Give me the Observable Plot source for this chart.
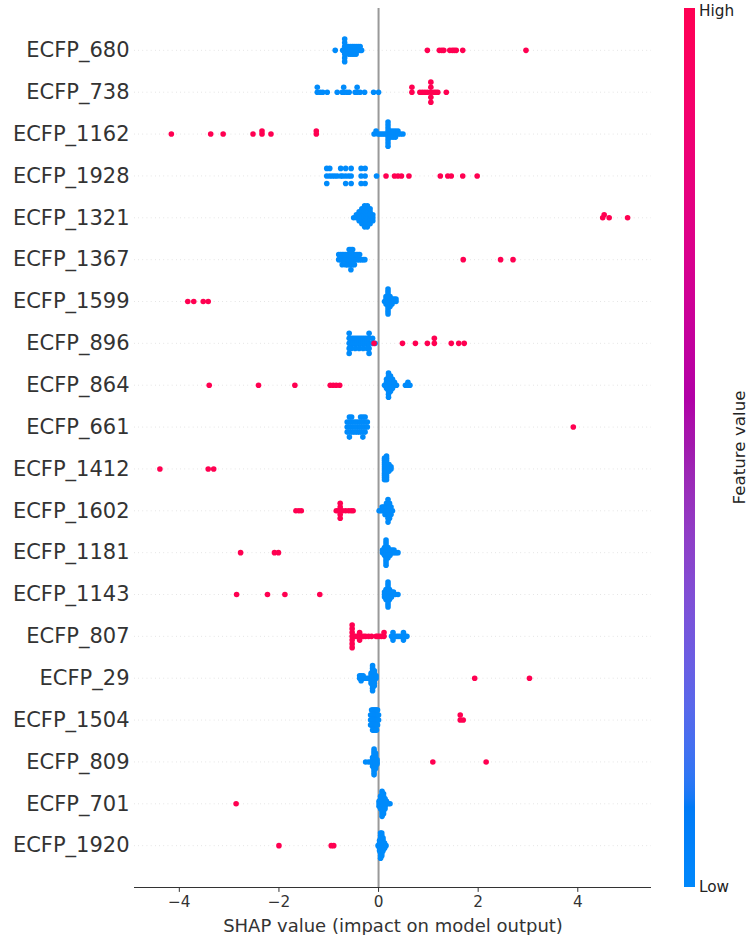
<!DOCTYPE html>
<html><head><meta charset="utf-8">
<script src="https://cdn.jsdelivr.net/npm/d3@7"></script>
<script src="https://cdn.jsdelivr.net/npm/@observablehq/plot@0.6"></script>
<style>
body{margin:0;background:#fff;}
#wrap{position:relative;width:749px;height:935px;font-family:"DejaVu Sans",sans-serif;}
</style></head><body><div id="wrap"></div>
<script>
// Features, top to bottom
const features = ["ECFP_680","ECFP_738","ECFP_1162","ECFP_1928","ECFP_1321","ECFP_1367","ECFP_1599","ECFP_896","ECFP_864","ECFP_661","ECFP_1412","ECFP_1602","ECFP_1181","ECFP_1143","ECFP_807","ECFP_29","ECFP_1504","ECFP_809","ECFP_701","ECFP_1920"];

// SHAP values of samples with LOW feature value (blue)
const shapLow = [
[-0.87,-0.72,-0.68,-0.68,-0.68,-0.68,-0.68,-0.68,-0.68,-0.64,-0.64,-0.6,-0.6,-0.6,-0.56,-0.56,-0.56,-0.525,-0.525,-0.525,-0.49,-0.49,-0.49,-0.45,-0.45,-0.45,-0.41,-0.41,-0.37,-0.37,-0.34],
[-1.23,-1.23,-1.17,-1.12,-1.03,-0.83,-0.73,-0.7,-0.7,-0.64,-0.59,-0.47,-0.43,-0.43,-0.37,-0.28,-0.1,0],
[-0.09,-0.05,-0.01,0.03,0.07,0.11,0.15,0.19,0.19,0.19,0.19,0.19,0.19,0.19,0.19,0.19,0.24,0.24,0.24,0.29,0.29,0.29,0.34,0.34,0.34,0.39,0.39,0.44,0.49],
[-1.04,-1.04,-1.04,-0.98,-0.98,-0.93,-0.88,-0.83,-0.76,-0.76,-0.72,-0.66,-0.66,-0.66,-0.6,-0.55,-0.55,-0.55,-0.35,-0.35,-0.35,-0.27,-0.27,-0.27,-0.04],
[-0.5,-0.445,-0.445,-0.39,-0.39,-0.39,-0.39,-0.335,-0.335,-0.335,-0.335,-0.335,-0.335,-0.28,-0.28,-0.28,-0.28,-0.28,-0.28,-0.28,-0.28,-0.225,-0.225,-0.225,-0.225,-0.225,-0.225,-0.225,-0.225,-0.17,-0.17,-0.17,-0.17,-0.17,-0.17,-0.115,-0.115,-0.115],
[-0.8,-0.8,-0.765,-0.765,-0.73,-0.73,-0.73,-0.695,-0.695,-0.66,-0.66,-0.66,-0.625,-0.625,-0.625,-0.59,-0.59,-0.59,-0.59,-0.555,-0.555,-0.555,-0.555,-0.555,-0.52,-0.52,-0.52,-0.52,-0.485,-0.485,-0.485,-0.45,-0.45,-0.415,-0.415,-0.38,-0.38,-0.345,-0.31,-0.275],
[0.12,0.15,0.15,0.15,0.15,0.19,0.19,0.19,0.19,0.19,0.19,0.19,0.19,0.19,0.19,0.19,0.23,0.23,0.23,0.23,0.23,0.27,0.27,0.27,0.31,0.31,0.35,0.35],
[-0.59,-0.59,-0.59,-0.59,-0.59,-0.55,-0.55,-0.55,-0.51,-0.51,-0.47,-0.47,-0.47,-0.43,-0.43,-0.39,-0.39,-0.39,-0.35,-0.35,-0.31,-0.31,-0.31,-0.27,-0.27,-0.23,-0.23,-0.23,-0.19,-0.19,-0.19,-0.19,-0.19,-0.12,-0.12,-0.07],
[0.12,0.16,0.16,0.16,0.16,0.2,0.2,0.2,0.2,0.2,0.2,0.2,0.2,0.2,0.24,0.24,0.24,0.24,0.24,0.24,0.28,0.28,0.28,0.28,0.32,0.32,0.36,0.54,0.59,0.59,0.63],
[-0.63,-0.63,-0.63,-0.585,-0.585,-0.585,-0.585,-0.585,-0.54,-0.54,-0.54,-0.54,-0.495,-0.495,-0.495,-0.45,-0.45,-0.45,-0.405,-0.405,-0.405,-0.36,-0.36,-0.36,-0.36,-0.315,-0.315,-0.315,-0.315,-0.315,-0.27,-0.27,-0.27,-0.27,-0.225,-0.225],
[0.12,0.12,0.12,0.12,0.12,0.12,0.12,0.12,0.12,0.12,0.12,0.16,0.16,0.16,0.16,0.16,0.16,0.16,0.16,0.16,0.16,0.16,0.16,0.21,0.21,0.21,0.21,0.25,0.25],
[0.01,0.04,0.07,0.07,0.1,0.1,0.13,0.13,0.13,0.16,0.16,0.16,0.16,0.19,0.19,0.19,0.19,0.19,0.19,0.19,0.22,0.22,0.22,0.22,0.22,0.25,0.25,0.25,0.28],
[0.08,0.08,0.12,0.12,0.12,0.12,0.15,0.15,0.15,0.15,0.15,0.15,0.15,0.15,0.15,0.15,0.15,0.19,0.19,0.19,0.19,0.19,0.23,0.23,0.23,0.27,0.27,0.31,0.31,0.35,0.39],
[0.12,0.12,0.12,0.15,0.15,0.15,0.15,0.15,0.19,0.19,0.19,0.19,0.19,0.19,0.19,0.19,0.19,0.19,0.19,0.22,0.22,0.22,0.22,0.22,0.26,0.26,0.26,0.3,0.3,0.34,0.39],
[0.26,0.29,0.29,0.29,0.33,0.37,0.41,0.45,0.5,0.5,0.5,0.54,0.57],
[-0.38,-0.38,-0.35,-0.35,-0.35,-0.31,-0.31,-0.28,-0.24,-0.2,-0.15,-0.15,-0.15,-0.15,-0.15,-0.12,-0.12,-0.12,-0.12,-0.12,-0.12,-0.12,-0.12,-0.12,-0.12,-0.12,-0.085,-0.085,-0.085,-0.085,-0.085,-0.085,-0.085,-0.05,-0.05],
[-0.16,-0.16,-0.16,-0.14,-0.14,-0.14,-0.14,-0.12,-0.12,-0.12,-0.12,-0.12,-0.1,-0.1,-0.1,-0.1,-0.1,-0.08,-0.08,-0.08,-0.08,-0.08,-0.06,-0.06,-0.06,-0.06,-0.06,-0.04,-0.04,-0.04,-0.04,-0.04,-0.02,-0.02,-0.02,-0.02,0,0],
[-0.26,-0.2,-0.15,-0.12,-0.12,-0.12,-0.12,-0.12,-0.09,-0.09,-0.09,-0.09,-0.09,-0.09,-0.09,-0.09,-0.09,-0.09,-0.09,-0.09,-0.09,-0.06,-0.06,-0.06,-0.06,-0.06,-0.06,-0.06,-0.06,-0.03,-0.03,-0.03],
[0.01,0.01,0.01,0.04,0.04,0.04,0.04,0.04,0.04,0.07,0.07,0.07,0.07,0.07,0.07,0.07,0.07,0.07,0.07,0.07,0.1,0.1,0.1,0.1,0.1,0.1,0.1,0.1,0.1,0.13,0.13,0.13,0.13,0.13,0.16,0.16,0.2,0.23],
[-0.01,0.02,0.02,0.02,0.02,0.02,0.04,0.04,0.04,0.04,0.04,0.04,0.04,0.04,0.04,0.04,0.04,0.065,0.065,0.065,0.065,0.065,0.065,0.065,0.065,0.065,0.065,0.09,0.09,0.09,0.09,0.09,0.09,0.12,0.12,0.12,0.15]
];

// SHAP values of samples with HIGH feature value (red)
const shapHigh = [
[0.98,1.22,1.27,1.31,1.43,1.48,1.52,1.56,1.69,2.96],
[0.67,0.67,0.83,0.88,0.93,0.98,1.05,1.05,1.05,1.05,1.05,1.11,1.15,1.19,1.36],
[-4.16,-3.37,-3.12,-2.52,-2.34,-2.34,-2.16,-1.25,-1.25],
[0.15,0.32,0.39,0.46,0.61,1.24,1.39,1.46,1.69,1.98],
[4.5,4.53,4.63,5.0],
[1.7,2.45,2.7],
[-3.83,-3.71,-3.52,-3.42],
[-0.09,0.48,0.74,0.98,1.12,1.12,1.46,1.61,1.72],
[-3.4,-2.41,-1.68,-0.97,-0.91,-0.85,-0.78],
[3.91],
[-4.39,-3.42,-3.31],
[-1.66,-1.6,-1.55,-0.85,-0.81,-0.77,-0.77,-0.77,-0.77,-0.77,-0.72,-0.66,-0.6,-0.55,-0.51],
[-2.77,-2.09,-2.01],
[-2.85,-2.23,-1.88,-1.18],
[-0.53,-0.53,-0.53,-0.53,-0.53,-0.53,-0.53,-0.49,-0.45,-0.41,-0.38,-0.38,-0.38,-0.34,-0.3,-0.26,-0.2,-0.14,-0.05,-0.02,0.02,0.06,0.11,0.11],
[1.93,3.03],
[1.64,1.64,1.7],
[1.09,2.16],
[-2.86],
[-2.0,-0.95,-0.9]
];

const xTicks = [-4, -2, 0, 2, 4];
const xLabel = "SHAP value (impact on model output)";
const legendTitle = "Feature value";
const legendLow = "Low", legendHigh = "High";
const blue = "#008bfb", red = "#ff0051";

// SHAP-style beeswarm layout (100 bins per row, alternate layers)
function swarm(vals) {
  const n = vals.length;
  const mn = d3.min(vals), mx = d3.max(vals);
  const q = vals.map(v => Math.round(100 * (v - mn) / (mx - mn + 1e-8)));
  const idx = d3.range(n).sort((a, b) => q[a] - q[b] || a - b);
  const ys = new Array(n).fill(0);
  let layer = 0, last = -1;
  for (const i of idx) {
    if (q[i] !== last) layer = 0;
    ys[i] = Math.ceil(layer / 2) * ((layer % 2) * 2 - 1);
    layer++; last = q[i];
  }
  const m = d3.max(ys, y => y + 1);
  return ys.map(y => y * 0.9 * (0.4 / m));
}

const points = [];
features.forEach((f, i) => {
  const pos = features.length - 1 - i;
  const vals = shapLow[i].concat(shapHigh[i]);
  const hi = shapLow[i].map(() => false).concat(shapHigh[i].map(() => true));
  const ys = swarm(vals);
  vals.forEach((v, k) => points.push({feature: f, v, y: pos + ys[k], color: hi[k] ? red : blue}));
});

const plot = Plot.plot({
  width: 749, height: 935,
  marginLeft: 134, marginRight: 98, marginTop: 8, marginBottom: 48,
  style: {fontFamily: "DejaVu Sans", background: "white", overflow: "visible"},
  x: {domain: [-4.9, 5.48]},
  y: {domain: [-1, 20]},
  color: {type: "identity"},
  marks: [
    Plot.ruleY(d3.range(20), {stroke: "#cccccc", strokeWidth: 0.7, strokeDasharray: "0.7 3.5"}),
    Plot.ruleX([0], {stroke: "#999999", strokeWidth: 2}),
    Plot.dot(points, {x: "v", y: "y", r: 2.8, fill: "color", stroke: "none"}),
    Plot.ruleY([-1], {stroke: "#333333", strokeWidth: 1.1}),
    Plot.axisX({ticks: xTicks, tickSize: 4.9, tickPadding: 4, fontSize: 15.3, color: "#333333", label: null}),
    Plot.axisY({ticks: d3.range(20), tickFormat: d => features[19 - d], tickSize: 0, tickPadding: 5, fontSize: 21, color: "#333333", label: null}),
    Plot.text([xLabel], {frameAnchor: "bottom", dy: 38.5, lineAnchor: "middle", fontSize: 18, fill: "#333333"})
  ]
});

const wrap = document.getElementById("wrap");
wrap.appendChild(plot);

// Colorbar legend (SHAP red_blue colormap in LCH)
const ys = plot.scale("y");
const yTop = ys.apply(20), yBot = ys.apply(-1);
const svg = d3.create("svg").attr("width", 749).attr("height", 935)
  .style("position", "absolute").style("left", "0px").style("top", "0px")
  .attr("font-family", "DejaVu Sans");
const grad = svg.append("defs").append("linearGradient").attr("id", "cbgrad")
  .attr("x1", 0).attr("y1", 1).attr("x2", 0).attr("y2", 0);
const nsteps = 100;
const hBlue = 4.6588, hRed = 0.35470565 + 2 * Math.PI;
for (let i = 0; i < nsteps; i++) {
  const t = i / (nsteps - 1);
  const l = i < 50 ? 54 + (40 - 54) * (i / 49) : 40 + (54 - 40) * ((i - 50) / 49);
  const c = 70 + (90 - 70) * t;
  const h = (hBlue + (hRed - hBlue) * t) * 180 / Math.PI;
  grad.append("stop").attr("offset", t).attr("stop-color", d3.lch(l, c, h).formatHex());
}
svg.append("rect").attr("x", 684).attr("y", yTop).attr("width", 11).attr("height", yBot - yTop).attr("fill", "url(#cbgrad)");
svg.append("text").attr("x", 699).attr("y", yTop + 3).attr("dominant-baseline", "central")
  .attr("font-size", 15.3).attr("fill", "#222").text(legendHigh);
svg.append("text").attr("x", 699).attr("y", yBot).attr("dominant-baseline", "central")
  .attr("font-size", 15.3).attr("fill", "#222").text(legendLow);
svg.append("text").attr("transform", `translate(739,${(yTop + yBot) / 2}) rotate(-90)`)
  .attr("text-anchor", "middle").attr("dominant-baseline", "central")
  .attr("font-size", 16.7).attr("fill", "#222").text(legendTitle);
wrap.appendChild(svg.node());
</script>
</body></html>
